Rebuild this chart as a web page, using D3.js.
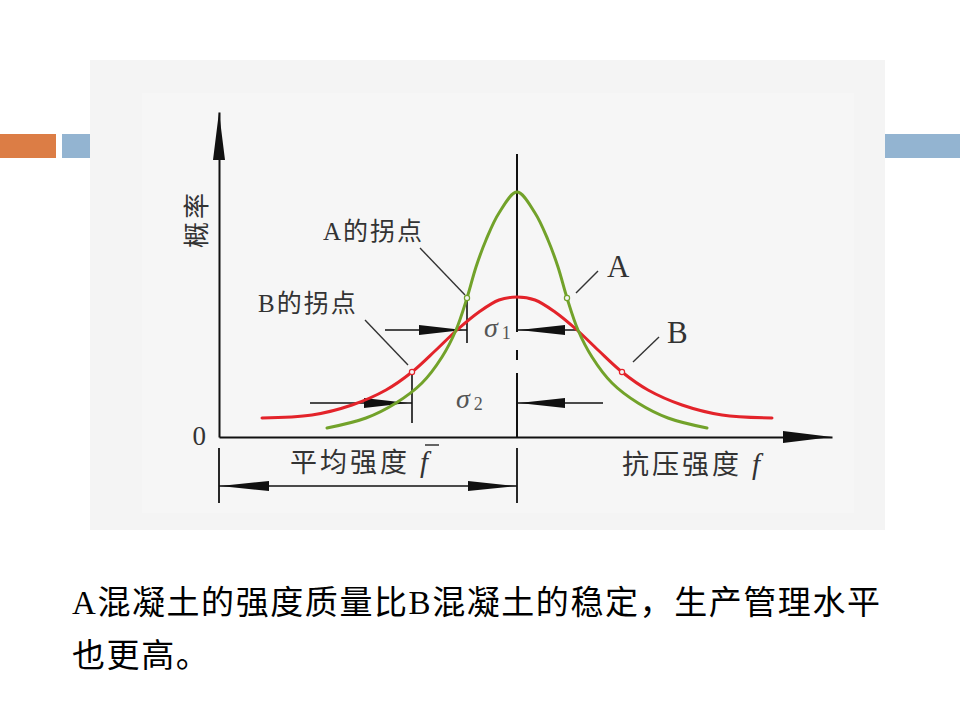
<!DOCTYPE html>
<html>
<head>
<meta charset="utf-8">
<script src="https://cdn.jsdelivr.net/npm/d3@7"></script>
<style>
    body { margin: 0; background: #fff; }
    svg { display: block; }
</style>
</head>
<body>
<div id="chart"></div>
<script>
// curve A (green, narrow) - strength / probability
var curveAX = [2.16, 2.94, 3.54, 4.06, 4.46, 4.74, 4.96, 5.14, 5.34, 5.60, 5.96,
               6.32, 6.58, 6.78, 6.96, 7.18, 7.46, 7.86, 8.38, 8.98, 9.76];
var curveAY = [0.036, 0.076, 0.136, 0.216, 0.320, 0.428, 0.556, 0.680, 0.788, 0.896, 0.980,
               0.896, 0.788, 0.680, 0.556, 0.428, 0.320, 0.216, 0.136, 0.076, 0.036];

// curve B (red, wide)
var curveBX = [0.86, 1.86, 2.66, 3.34, 3.86, 4.34, 4.76, 5.20, 5.60, 5.96,
               6.32, 6.72, 7.16, 7.58, 8.06, 8.58, 9.26, 10.06, 11.06];
var curveBY = [0.076, 0.088, 0.128, 0.188, 0.260, 0.348, 0.428, 0.500, 0.548, 0.560,
               0.548, 0.500, 0.428, 0.348, 0.260, 0.188, 0.128, 0.088, 0.076];

var meanX = 5.96;
var inflectA = [4.96, 6.96], inflectAY = 0.556;
var inflectB = [3.86, 8.06], inflectBY = 0.260;

// sigma dimension marks: level, arrow tails, tick extent, label spot
var sigmaSubs   = ['1', '2'];
var sigmaLevel  = [0.428, 0.136];
var sigmaLeftTail  = [3.32, 1.82];
var sigmaLeftTip   = [4.96, 3.86];
var sigmaRightTail = [7.16, 7.68];
var sigmaTickTop    = [0.556, 0.260];
var sigmaTickBottom = [0.376, 0.056];
var sigmaLabelX = [5.30, 4.74];
var sigmaLabelY = [0.400, 0.116];

// mean line pieces (dash-dot look), and the mean-strength dimension below the axis
var meanPieces = [[1.132, 0.42], [0.348, 0.308], [0.256, 0]];
var dimTicks = [0, meanX];
var dimTickSpan = [-0.044, -0.264];
var dimLevel = -0.196;

// leader lines [x1, y1, x2, y2] and their labels
var leaderLines = [[4.02, 0.756, 4.92, 0.568], [2.92, 0.468, 3.78, 0.288],
                   [7.14, 0.576, 7.58, 0.664], [8.28, 0.300, 8.80, 0.400]];
var leaderText = ['A的拐点', 'B的拐点', 'A', 'B'];
var leaderTextX = [2.08, 0.78, 7.76, 8.96];
var leaderTextY = [0.788, 0.500, 0.640, 0.376];

var yTitle = '概率';
var xTitle = '抗压强度';
var meanTitle = '平均强度';
var caption = ['A混凝土的强度质量比B混凝土的稳定，生产管理水平', '也更高。'];

var W = 960, H = 720;
var cjk = "'Liberation Serif', 'Noto Sans CJK SC', serif";

var svg = d3.select('#chart').append('svg')
    .attr('width', W)
    .attr('height', H);

// slide decoration
svg.append('rect').attr('x', 0).attr('y', 134).attr('width', 56).attr('height', 24).attr('fill', '#dc7d45');
svg.append('rect').attr('x', 62).attr('y', 134).attr('width', 28).attr('height', 24).attr('fill', '#93b4d1');
svg.append('rect').attr('x', 885).attr('y', 134).attr('width', 75).attr('height', 24).attr('fill', '#93b4d1');
svg.append('rect').attr('x', 90).attr('y', 60).attr('width', 795).attr('height', 470).attr('fill', '#f4f4f4');
svg.append('rect').attr('x', 142).attr('y', 93).attr('width', 712).attr('height', 420).attr('fill', '#f6f6f6');

var x = d3.scaleLinear().domain([0, 12.26]).range([219, 832]),
    y = d3.scaleLinear().domain([0, 1.3]).range([437, 112]);

var g = svg.append('g');

function head(tipX, tipY, dx, dy, len, hw) {
    var px = -dy, py = dx;
    var pts = [[tipX, tipY],
               [tipX - dx * len + px * hw, tipY - dy * len + py * hw],
               [tipX - dx * len - px * hw, tipY - dy * len - py * hw]];
    g.append('path')
        .attr('d', d3.line()(pts) + 'Z')
        .attr('fill', '#111');
}

// axes (no ticks, only the arrowed lines)
g.append('g')
    .attr('transform', 'translate(0,' + y(0) + ')')
    .call(d3.axisBottom(x).tickValues([]).tickSizeOuter(0))
    .select('.domain').attr('stroke', '#111').attr('stroke-width', 2);
g.append('g')
    .attr('transform', 'translate(' + x(0) + ',0)')
    .call(d3.axisLeft(y).tickValues([]).tickSizeOuter(0))
    .select('.domain').attr('stroke', '#111').attr('stroke-width', 2);
head(x(12.26), y(0), 1, 0, 49, 6);
head(x(0), y(1.3), 0, -1, 48, 6);

// mean line
meanPieces.forEach(function (p) {
    g.append('line')
        .attr('x1', x(meanX)).attr('x2', x(meanX))
        .attr('y1', y(p[0])).attr('y2', y(p[1]))
        .attr('stroke', '#111').attr('stroke-width', 2);
});

// sigma dimensions
sigmaSubs.forEach(function (s, i) {
    var ly = y(sigmaLevel[i]);
    g.append('line')
        .attr('x1', x(sigmaLeftTail[i])).attr('x2', x(sigmaLeftTip[i]))
        .attr('y1', ly).attr('y2', ly)
        .attr('stroke', '#111').attr('stroke-width', 1.6);
    g.append('line')
        .attr('x1', x(meanX)).attr('x2', x(sigmaRightTail[i]))
        .attr('y1', ly).attr('y2', ly)
        .attr('stroke', '#111').attr('stroke-width', 1.6);
    g.append('line')
        .attr('x1', x(sigmaLeftTip[i])).attr('x2', x(sigmaLeftTip[i]))
        .attr('y1', y(sigmaTickTop[i])).attr('y2', y(sigmaTickBottom[i]))
        .attr('stroke', '#111').attr('stroke-width', 1.6);
    head(x(sigmaLeftTip[i]) - 4, ly, 1, 0, 44, 5);
    head(x(meanX) + 2, ly, -1, 0, 46, 5);

    var t = g.append('text')
        .attr('x', x(sigmaLabelX[i]))
        .attr('y', y(sigmaLabelY[i]))
        .attr('fill', '#555')
        .style('font-family', "'Liberation Serif', serif");
    t.append('tspan').style('font-style', 'italic').style('font-size', '28px').text('σ');
    t.append('tspan').attr('dx', 4).attr('dy', 2).style('font-size', '18px').text(s);
});

// mean strength dimension below axis
dimTicks.forEach(function (d) {
    g.append('line')
        .attr('x1', x(d)).attr('x2', x(d))
        .attr('y1', y(dimTickSpan[0])).attr('y2', y(dimTickSpan[1]))
        .attr('stroke', '#111').attr('stroke-width', 1.8);
});
g.append('line')
    .attr('x1', x(dimTicks[0])).attr('x2', x(dimTicks[1]))
    .attr('y1', y(dimLevel)).attr('y2', y(dimLevel))
    .attr('stroke', '#111').attr('stroke-width', 1.6);
head(x(dimTicks[0]) + 1, y(dimLevel), -1, 0, 49, 5);
head(x(dimTicks[1]) - 1, y(dimLevel), 1, 0, 48, 5);

// curves
var line = d3.line()
    .curve(d3.curveCatmullRom.alpha(0.5))
    .x(function (d) { return x(d[0]); })
    .y(function (d) { return y(d[1]); });

var curves = [
    { pts: d3.zip(curveBX, curveBY), color: '#e3232a', inf: inflectB, infY: inflectBY },
    { pts: d3.zip(curveAX, curveAY), color: '#72a22a', inf: inflectA, infY: inflectAY }
];
curves.forEach(function (c) {
    g.append('path')
        .attr('d', line(c.pts))
        .attr('fill', 'none')
        .attr('stroke', c.color)
        .attr('stroke-width', 3)
        .attr('stroke-linecap', 'round');
});
curves.forEach(function (c) {
    c.inf.forEach(function (v) {
        g.append('circle')
            .attr('cx', x(v)).attr('cy', y(c.infY)).attr('r', 2.6)
            .attr('fill', '#f4f4f4')
            .attr('stroke', c.color).attr('stroke-width', 1.2);
    });
});

// leaders and labels
leaderLines.forEach(function (l, i) {
    g.append('line')
        .attr('x1', x(l[0])).attr('y1', y(l[1]))
        .attr('x2', x(l[2])).attr('y2', y(l[3]))
        .attr('stroke', '#333').attr('stroke-width', 1.4);
    g.append('text')
        .attr('x', x(leaderTextX[i]))
        .attr('y', y(leaderTextY[i]))
        .attr('fill', '#333')
        .style('font-family', cjk)
        .style('font-size', leaderText[i].length > 1 ? '25px' : '31px')
        .style('letter-spacing', leaderText[i].length > 1 ? '2px' : '0px')
        .text(leaderText[i]);
});

// "0", axis titles
g.append('text')
    .attr('x', x(0) - 13).attr('y', y(-0.032))
    .attr('text-anchor', 'end')
    .attr('fill', '#333')
    .style('font-family', "'Liberation Serif', serif")
    .style('font-size', '27px')
    .text('0');

g.append('text')
    .attr('transform', 'translate(' + (x(0) - 13) + ',' + y(0.872) + ') rotate(-90)')
    .attr('text-anchor', 'middle')
    .attr('fill', '#333')
    .style('font-family', cjk)
    .style('font-size', '26px')
    .style('letter-spacing', '3px')
    .text(yTitle);

function titleWithF(tx, ty, label, bar) {
    var t = g.append('text')
        .attr('x', tx).attr('y', ty)
        .attr('fill', '#333')
        .style('font-family', cjk)
        .style('font-size', '27px');
    t.append('tspan').style('letter-spacing', '3px').text(label);
    t.append('tspan').attr('dx', 10)
        .style('font-family', "'Liberation Serif', serif")
        .style('font-style', 'italic')
        .style('font-size', '29px')
        .text('f');
    if (bar) {
        var n = t.node();
        var start = n.getStartPositionOfChar(n.getNumberOfChars() - 1).x;
        g.append('line')
            .attr('x1', start + 5).attr('x2', start + 19)
            .attr('y1', ty - 27).attr('y2', ty - 27)
            .attr('stroke', '#333').attr('stroke-width', 1.5);
    }
}
titleWithF(x(1.42), y(-0.14), meanTitle, true);
titleWithF(x(8.06), y(-0.148), xTitle, false);

// caption below the figure
var cap1 = svg.append('text')
    .attr('x', 72).attr('y', 614)
    .attr('fill', '#000')
    .style('font-family', cjk)
    .style('font-size', '33px')
    .text(caption[0]);
var natural = cap1.node().getComputedTextLength();
var spacing = (808 - natural) / (caption[0].length - 1);
cap1.style('letter-spacing', spacing + 'px');
svg.append('text')
    .attr('x', 72).attr('y', 667)
    .attr('fill', '#000')
    .style('font-family', cjk)
    .style('font-size', '33px')
    .style('letter-spacing', spacing + 'px')
    .text(caption[1]);
</script>
</body>
</html>
